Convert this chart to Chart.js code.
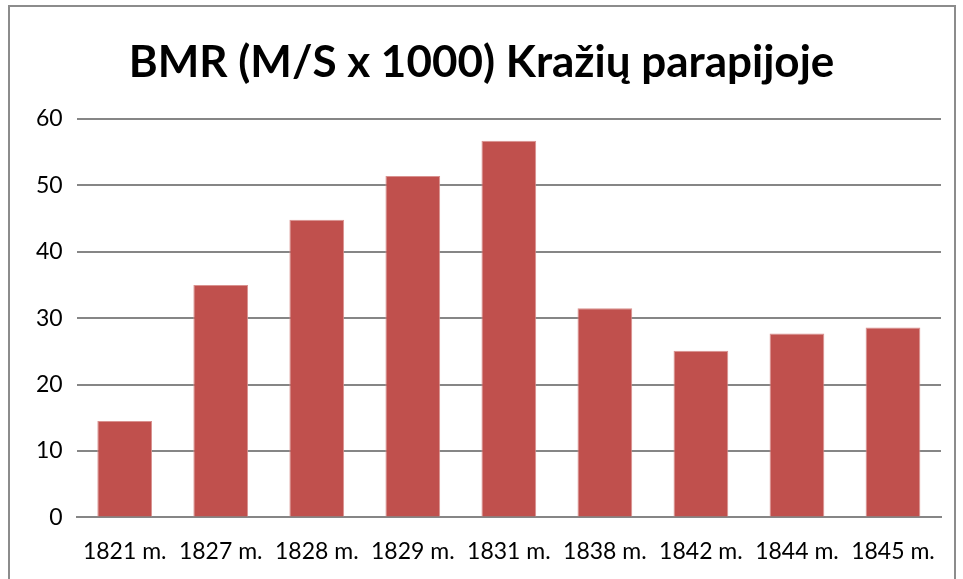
<!DOCTYPE html>
<html>
<head>
<meta charset="utf-8">
<script src="https://cdn.jsdelivr.net/npm/chart.js@4.4.0/dist/chart.umd.min.js"></script>
<style>
  html, body { margin: 0; padding: 0; background: #fff; }
  #wrap { position: relative; width: 963px; height: 579px; }
  #frame { position: absolute; left: 8px; top: 5px; width: 948px; height: 600px; border: 2px solid #8c8c8c; box-sizing: border-box; }
  canvas { position: absolute; left: 0; top: 0; }
</style>
</head>
<body>
<div id="wrap">
  <div id="frame"></div>
  <canvas id="chart" width="963" height="579"></canvas>
</div>
<script>
// Data for the chart
const years = ['1821 m.', '1827 m.', '1828 m.', '1829 m.', '1831 m.', '1838 m.', '1842 m.', '1844 m.', '1845 m.'];
const bmrValues = [14.5, 35.0, 44.8, 51.4, 56.7, 31.5, 25.1, 27.7, 28.6];
const yTicks = [0, 10, 20, 30, 40, 50, 60];

const fontFamily = "Lato, 'Open Sans', sans-serif";

new Chart(document.getElementById('chart'), {
  type: 'bar',
  data: {
    labels: years,
    datasets: [{
      label: 'BMR',
      data: bmrValues,
      backgroundColor: '#c0504d',
      borderColor: '#d9918f',
      borderWidth: 1,
      barPercentage: 0.57,
      categoryPercentage: 1
    }]
  },
  options: {
    responsive: false,
    animation: false,
    layout: { padding: { left: 22, right: 22, top: 24, bottom: 2 } },
    scales: {
      y: {
        min: yTicks[0],
        max: yTicks[yTicks.length - 1],
        ticks: { stepSize: 10, color: '#000', font: { family: fontFamily, size: 23 }, padding: 14 },
        grid: { color: '#868686', lineWidth: 2, drawTicks: false },
        border: { display: false }
      },
      x: {
        ticks: { color: '#000', font: { family: fontFamily, size: 23 }, padding: 12, maxRotation: 0, autoSkip: false },
        grid: { display: false },
        border: { color: '#868686', width: 2 }
      }
    },
    plugins: {
      legend: { display: false },
      tooltip: { enabled: false },
      title: {
        display: true,
        text: 'BMR (M/S x 1000) Kražių parapijoje',
        color: '#000',
        font: { family: fontFamily, size: 44, weight: 'bold' },
        padding: { top: 12, bottom: 30 }
      }
    }
  }
});
</script>
</body>
</html>
